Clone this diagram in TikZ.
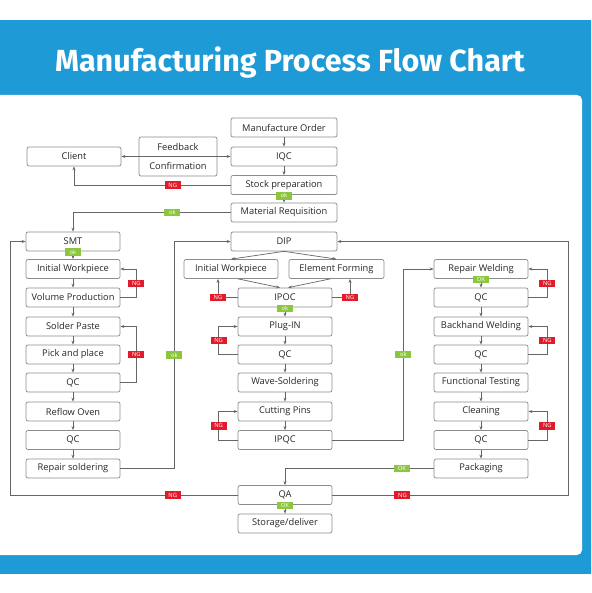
\documentclass[tikz,border=0pt]{standalone}
\usepackage{fontspec}
\setmainfont{Open Sans}
\newfontfamily\titlefont{Fira Sans}
\usetikzlibrary{arrows.meta,positioning}
\definecolor{hdrblue}{HTML}{1E9AD6}
\definecolor{ngred}{HTML}{E11B2B}
\definecolor{okgreen}{HTML}{8CC63E}
\definecolor{linegray}{HTML}{666666}
\definecolor{boxgray}{HTML}{8C8C8C}
\definecolor{txtgray}{HTML}{262626}

\begin{document}
\begin{tikzpicture}[x=1pt,y=-1pt,
  box/.style={draw=boxgray,line width=.7pt,rounded corners=2pt,minimum width=94pt,minimum height=19pt,inner sep=0pt,font=\fontsize{9.3}{10}\selectfont,text=txtgray},
  wbox/.style={box,minimum width=106pt},
  lbl/.style={font=\fontsize{9.3}{10}\selectfont,text=txtgray,inner sep=0pt},
  flow/.style={draw=linegray,line width=.7pt,-{Stealth[length=4pt,width=3pt]}},
  link/.style={draw=linegray,line width=.7pt},
  ng/.style={draw=none,fill=ngred,text=white,font=\fontsize{5.8}{6}\selectfont,inner sep=0pt,minimum width=16pt,minimum height=7.5pt},
  ok/.style={ng,fill=okgreen}]
\useasboundingbox (0,0) rectangle (591,593);
% background
\fill[hdrblue] (0,20) rectangle (591,574);
\fill[white,rounded corners=5pt] (-10,95) rectangle (582,555);
\node[text=white,font=\titlefont\bfseries\fontsize{30.5}{32}\selectfont,anchor=base] (title) at (290,72) {Manufacturing Process Flow Chart};

% order and material
\node[wbox] (mo) at (284,127.5) {Manufacture Order};
\node[wbox] (iqc) at (284,156.5) {IQC};
\node[wbox] (stock) at (284,185) {Stock preparation};
\node[wbox] (mreq) at (284,212.5) {Material Requisition};
\node[box] (client) at (74,156.5) {Client};
\node[box,minimum width=78pt,minimum height=39pt] (fbc) at (178,156.5) {};
\node[lbl] (fb) at (178,147) {Feedback};
\node[lbl] (cf) at (178,166) {Confirmation};

% SMT line
\node[box] (smt) at (73,241.5) {SMT};
\node[box] (iwl) at (73,269) {Initial Workpiece};
\node[box] (vp) at (73,297.5) {Volume Production};
\node[box] (sp) at (73,326.5) {Solder Paste};
\node[box] (pp) at (73,354.5) {Pick and place};
\node[box] (qcl1) at (73,382.5) {QC};
\node[box] (ro) at (73,411.5) {Reflow Oven};
\node[box] (qcl2) at (73,440) {QC};
\node[box] (rs) at (73,468.5) {Repair soldering};

% DIP line
\node[wbox] (dip) at (284,241.5) {DIP};
\node[box] (iwm) at (231,269) {Initial Workpiece};
\node[box,minimum width=95pt] (ef) at (336.5,269) {Element Forming};
\node[box] (ipoc) at (285,297.5) {IPOC};
\node[box] (plug) at (285,326.5) {Plug-IN};
\node[box] (qcm) at (285,354.5) {QC};
\node[box] (ws) at (285,382.5) {Wave-Soldering};
\node[box] (cp) at (285,411.5) {Cutting Pins};
\node[box] (ipqc) at (285,440) {IPQC};
\node[box] (qa) at (285,495) {QA};
\node[box] (sd) at (285,523.5) {Storage/deliver};

% welding and testing
\node[box] (rw) at (481,269) {Repair Welding};
\node[box] (qcr1) at (481,297.5) {QC};
\node[box] (bw) at (481,326.5) {Backhand Welding};
\node[box] (qcr2) at (481,354.5) {QC};
\node[box] (ft) at (481,382.5) {Functional Testing};
\node[box] (cl) at (481,411.5) {Cleaning};
\node[box] (qcr3) at (481,440) {QC};
\node[box] (pk) at (481,468.5) {Packaging};

% top connectors
\draw[flow] (mo) -- (iqc);
\draw[flow] (iqc) -- (stock);
\draw[flow] (stock) -- node[ok,pos=.12]{ok} (mreq);
\draw[link] (fbc.west) -- (fbc.east);
\draw[flow] (fbc.west) -- (client.east);
\draw[flow] (fbc.east) -- (iqc.west);
\draw[flow] (stock.west) -| node[ng,pos=.185]{NG} (client.south);
\draw[flow] (mreq.west) -| node[ok,pos=.185]{ok} (smt.north);

% SMT connectors
\draw[flow] (smt) -- node[ok,pos=.1]{ok} (iwl);
\draw[flow] (iwl) -- (vp);
\draw[flow] (vp) -- (sp);
\draw[flow] (sp) -- (pp);
\draw[flow] (pp) -- (qcl1);
\draw[flow] (qcl1) -- (ro);
\draw[flow] (ro) -- (qcl2);
\draw[flow] (qcl2) -- (rs);
\draw[flow] (vp.east) -- ++(16,0) |- node[ng,pos=.25]{NG} (iwl.east);
\draw[flow] (qcl1.east) -- ++(16,0) |- node[ng,pos=.25]{NG} (sp.east);
\draw[flow] (rs.east) -- ++(54,0) |- node[ok,pos=.25]{ok} (dip.west);

% DIP connectors
\draw[flow] (dip.south) -- (iwm.north);
\draw[flow] (dip.south) -- (ef.north);
\draw[flow] ([xshift=7pt]iwm.south) -- ([xshift=-5pt]ipoc.north);
\draw[flow] ([xshift=-6pt]ef.south) -- ([xshift=3pt]ipoc.north);
\draw[flow] (ipoc.west) -| node[ng,pos=.5]{NG} ([xshift=-13pt]iwm.south);
\draw[flow] (ipoc.east) -| node[ng,pos=.5]{NG} ([xshift=13.5pt]ef.south);
\draw[flow] (ipoc) -- node[ok,pos=.1]{ok} (plug);
\draw[flow] (plug) -- (qcm);
\draw[flow] (qcm) -- (ws);
\draw[flow] (ws) -- (cp);
\draw[flow] (cp) -- (ipqc);
\draw[flow] (qcm.west) -- ++(-19,0) |- node[ng,pos=.25]{NG} (plug.west);
\draw[flow] (ipqc.west) -- ++(-19,0) |- node[ng,pos=.25]{NG} (cp.west);
\draw[flow] (ipqc.east) -- ++(71,0) |- node[ok,pos=.25]{ok} (rw.west);

% welding connectors
\draw[flow] (rw) -- node[ok,pos=.1]{OK} (qcr1);
\draw[flow] (qcr1) -- (bw);
\draw[flow] (bw) -- (qcr2);
\draw[flow] (qcr2) -- (ft);
\draw[flow] (ft) -- (cl);
\draw[flow] (cl) -- (qcr3);
\draw[flow] (qcr3) -- (pk);
\draw[flow] (qcr1.east) -- ++(19,0) |- node[ng,pos=.25]{NG} (rw.east);
\draw[flow] (qcr2.east) -- ++(19,0) |- node[ng,pos=.25]{NG} (bw.east);
\draw[flow] (qcr3.east) -- ++(19,0) |- node[ng,pos=.25]{NG} (cl.east);
\draw[flow] (pk.west) -| node[ok,pos=.107]{OK} (qa.north);

% QA connectors
\draw[flow] (qa) -- node[ok,pos=.1]{OK} (sd);
\draw[flow] (qa.west) -- node[ng,pos=.286]{NG} ++(-227,0) |- (smt.west);
\draw[flow] (qa.east) -- node[ng,pos=.297]{NG} ++(236,0) |- (dip.east);
\end{tikzpicture}
\end{document}
